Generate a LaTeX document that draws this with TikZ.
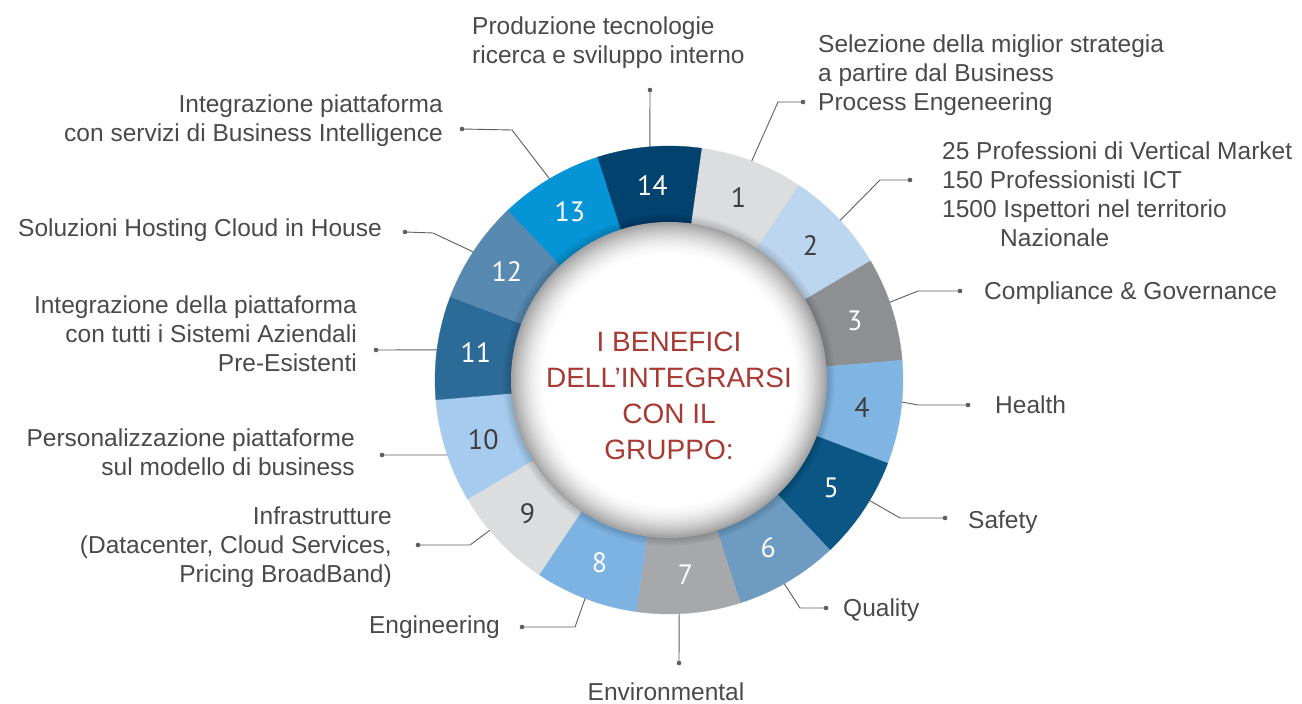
\documentclass[tikz,border=0pt]{standalone}
\usepackage{fontspec}
\setmainfont{Liberation Sans}
\newfontfamily\numfont{PT Sans}
\usetikzlibrary{calc}
\definecolor{c1}{HTML}{DCDDDF}
\definecolor{c2}{HTML}{BDD6EF}
\definecolor{c3}{HTML}{8D8F92}
\definecolor{c4}{HTML}{80B4E2}
\definecolor{c5}{HTML}{0B5685}
\definecolor{c6}{HTML}{6E9BC1}
\definecolor{c7}{HTML}{A6A8AB}
\definecolor{c8}{HTML}{7DB3E3}
\definecolor{c9}{HTML}{DCDDDF}
\definecolor{c10}{HTML}{A7CBEE}
\definecolor{c11}{HTML}{2C6B97}
\definecolor{c12}{HTML}{5789B1}
\definecolor{c13}{HTML}{0594D5}
\definecolor{c14}{HTML}{01426E}
\definecolor{numdark}{HTML}{3E3E40}
\definecolor{txtgray}{HTML}{4A4A4A}
\definecolor{linegray}{HTML}{5E5E5E}
\definecolor{titlered}{HTML}{A83A33}
\tikzset{
  numlbl/.style={font=\numfont\fontsize{28}{30}\selectfont, inner sep=0pt},
  lbl/.style={font=\fontsize{24.5}{29}\selectfont, text=txtgray, inner sep=0pt},
  conn/.style={draw=linegray, line width=0.9pt},
  dotnode/.style={circle, fill=linegray, inner sep=0pt, minimum size=4.6pt},
  title/.style={font=\fontsize{28}{36}\selectfont, text=titlered, align=center, inner sep=0pt}
}
\begin{document}
\begin{tikzpicture}[x=1pt,y=1pt]
\useasboundingbox (0,0) rectangle (1302,704);
\fill[white] (0,0) rectangle (1302,704);
\coordinate (C) at (669,324);
% ring segments
\foreach \k/\col in {1/c1,2/c2,3/c3,4/c4,5/c5,6/c6,7/c7,8/c8,9/c9,10/c10,11/c11,12/c12,13/c13,14/c14}{
  \pgfmathsetmacro\aa{82-25.7143*\k}
  \pgfmathsetmacro\ab{\aa+25.7143}
  \filldraw[fill=\col, draw=\col, line width=0.3pt] ([shift={(\aa:234pt)}]C) arc[start angle=\aa, end angle=\ab, radius=234pt] -- ([shift={(\ab:140pt)}]C) arc[start angle=\ab, end angle=\aa, radius=140pt] -- cycle;
}
% soft shadow around the sphere
\foreach \i in {0,...,8}{
  \pgfmathsetmacro\rr{166-\i}
  \fill[black, opacity=0.02] (C) circle[radius=\rr pt];
}
% central sphere (gradient built from concentric discs)
\foreach \i in {0,...,48}{
  \pgfmathsetmacro\rr{158-0.7*\i}
  \pgfmathsetmacro\gg{37*(1-\i/48)^1.7}
  \fill[black!\gg!white] (C) circle[radius=\rr pt];
}
% numbers
\foreach \k/\tc in {1/numdark,2/numdark,3/white,4/numdark,5/white,6/white,7/white,8/white,9/numdark,10/numdark,11/white,12/white,13/white,14/white}{
  \pgfmathsetmacro\am{82-25.7143*(\k-0.5)}
  \node[numlbl, text=\tc] (n\k) at ([shift={(\am:195pt)}]C) {\k};
}
% title
\node[title] (title) at (669,308) {I BENEFICI\\DELL’INTEGRARSI\\CON IL\\GRUPPO:};
% connector points
\coordinate (s14) at ([shift={(94.7:234pt)}]C);
\coordinate (s1) at ([shift={(69.3:234pt)}]C);
\coordinate (s2) at ([shift={(43:234pt)}]C);
\coordinate (s3) at ([shift={(19.4:234pt)}]C);
\coordinate (s4) at ([shift={(-5.4:234pt)}]C);
\coordinate (s5) at ([shift={(-31:234pt)}]C);
\coordinate (s6) at ([shift={(-60.5:234pt)}]C);
\coordinate (s7) at ([shift={(-87.5:234pt)}]C);
\coordinate (s8) at ([shift={(249:234pt)}]C);
\coordinate (s9) at ([shift={(220:234pt)}]C);
\coordinate (s10) at ([shift={(198.7:234pt)}]C);
\coordinate (s11) at ([shift={(172.6:234pt)}]C);
\coordinate (s12) at ([shift={(146.8:234pt)}]C);
\coordinate (s13) at ([shift={(120.7:234pt)}]C);
\coordinate (b1) at (778,602);
\coordinate (b2) at (880,524);
\coordinate (b3) at (918,413);
\coordinate (b4) at (918,299);
\coordinate (b5) at (900,186);
\coordinate (b6) at (800,96);
\coordinate (b8) at (575,77);
\coordinate (b9) at (470,159);
\coordinate (b12) at (433,471);
\coordinate (b13) at (512,574);
% dots
\node[dotnode] (d14) at (650,614) {};
\node[dotnode] (d1) at (803,602) {};
\node[dotnode] (d2) at (910,524) {};
\node[dotnode] (d3) at (960,413) {};
\node[dotnode] (d4) at (968,299) {};
\node[dotnode] (d5) at (945,186) {};
\node[dotnode] (d6) at (826,96) {};
\node[dotnode] (d7) at (679,41) {};
\node[dotnode] (d8) at (522,77) {};
\node[dotnode] (d9) at (418,159) {};
\node[dotnode] (d10) at (382,249) {};
\node[dotnode] (d11) at (376,354) {};
\node[dotnode] (d12) at (405,472) {};
\node[dotnode] (d13) at (462,575) {};
% connectors
\draw[conn] (s14) -- (d14.center);
\draw[conn] (s1) -- (b1) -- (d1.center);
\draw[conn] (s2) -- (b2) -- (d2.center);
\draw[conn] (s3) -- (b3) -- (d3.center);
\draw[conn] (s4) -- (b4) -- (d4.center);
\draw[conn] (s5) -- (b5) -- (d5.center);
\draw[conn] (s6) -- (b6) -- (d6.center);
\draw[conn] (s7) -- (d7.center);
\draw[conn] (s8) -- (b8) -- (d8.center);
\draw[conn] (s9) -- (b9) -- (d9.center);
\draw[conn] (s10) -- (d10.center);
\draw[conn] (s11) -- (d11.center);
\draw[conn] (s12) -- (b12) -- (d12.center);
\draw[conn] (s13) -- (b13) -- (d13.center);
% labels
\node[lbl, align=left, anchor=west] (l14) at (472,661.5) {Produzione tecnologie\\ricerca e sviluppo interno};
\node[lbl, align=left, anchor=west] (l1) at (818,628.5) {Selezione della miglior strategia\\a partire dal Business\\Process Engeneering};
\node[lbl, align=left, anchor=west] (l2) at (942,510) {25 Professioni di Vertical Market\\150 Professionisti ICT\\1500 Ispettori nel territorio\\\hspace*{58pt}Nazionale};
\node[lbl, anchor=base west] (l3) at (984,404.2) {Compliance \& Governance};
\node[lbl, anchor=base west] (l4) at (995,290.2) {Health};
\node[lbl, anchor=base west] (l5) at (968,175.2) {Safety};
\node[lbl, anchor=base west] (l6) at (843,87.2) {Quality};
\node[lbl, anchor=base] (l7) at (666,3.2) {Environmental};
\node[lbl, anchor=base east] (l8) at (500,70.2) {Engineering};
\node[lbl, align=right, anchor=east] (l9) at (392,156.6) {Infrastrutture\\(Datacenter, Cloud Services,\\Pricing BroadBand)};
\node[lbl, align=right, anchor=east] (l10) at (355,251.6) {Personalizzazione piattaforme\\sul modello di business};
\node[lbl, align=right, anchor=east] (l11) at (357,370.6) {Integrazione della piattaforma\\con tutti i Sistemi Aziendali\\Pre-Esistenti};
\node[lbl, anchor=base east] (l12) at (382,467.2) {Soluzioni Hosting Cloud in House};
\node[lbl, align=right, anchor=east] (l13) at (443,583) {Integrazione piattaforma\\con servizi di Business Intelligence};
\end{tikzpicture}
\end{document}
